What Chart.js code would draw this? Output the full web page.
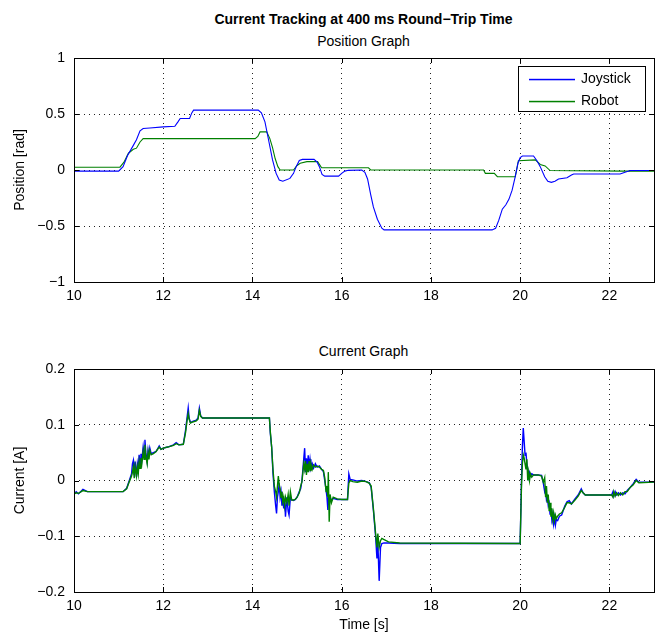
<!DOCTYPE html>
<html>
<head>
<meta charset="utf-8">
<script src="https://cdn.jsdelivr.net/npm/chart.js@4.4.1/dist/chart.umd.min.js"></script>
<style>
  body { margin: 0; background: #fff; }
  #wrap { position: relative; width: 668px; height: 636px; font-family: "Liberation Sans", Arial, sans-serif; color: #000; }
  .ttl { position: absolute; left: 0; width: 727px; text-align: center; font-size: 14px; line-height: 16px; white-space: nowrap; }
  canvas { position: absolute; left: 0; }
</style>
</head>
<body>
<div id="wrap">
  <div class="ttl" style="top:11px;font-weight:bold">Current Tracking at 400 ms Round−Trip Time</div>
  <div class="ttl" style="top:33px">Position Graph</div>
  <div class="ttl" style="top:343px">Current Graph</div>
  <canvas id="posChart" width="668" height="300" style="top:0"></canvas>
  <canvas id="curChart" width="668" height="336" style="top:300px"></canvas>
</div>
<script>
// tick labels
const xTicks = [10, 12, 14, 16, 18, 20, 22];
const posTicks = [-1, -0.5, 0, 0.5, 1];
const curTicks = [-0.2, -0.1, 0, 0.1, 0.2];

// series colours
const joyColor = "#0000ff";
const robColor = "#008000";

// position graph: joystick
const posJoyT = [10.00, 11.00, 11.10, 11.20, 11.33, 11.40, 11.48, 11.55, 11.70, 12.00, 12.26, 12.33, 12.38, 12.59, 12.64, 12.68,
  14.13, 14.20, 14.28, 14.37, 14.45, 14.53, 14.60, 14.68, 14.84, 14.92, 14.98, 15.05, 15.12, 15.38, 15.45, 15.50, 15.56, 15.62,
  15.93, 16.00, 16.07, 16.15, 16.45, 16.52, 16.58, 16.65, 16.71, 16.80, 16.90, 16.95, 19.37, 19.45, 19.52, 19.60, 19.68, 19.75,
  19.82, 19.89, 19.95, 20.00, 20.05, 20.30, 20.38, 20.45, 20.55, 20.62, 20.70, 20.78, 20.86, 21.05, 21.15, 21.20, 22.24, 22.35,
  22.47, 23.00];
const posJoyV = [-0.01, -0.01, 0.03, 0.13, 0.22, 0.27, 0.35, 0.37, 0.375, 0.385, 0.39, 0.43, 0.46, 0.46, 0.51, 0.535,
  0.535, 0.51, 0.43, 0.25, 0.09, -0.03, -0.09, -0.10, -0.075, -0.03, 0.03, 0.085, 0.095, 0.095, 0.07, 0.03, -0.04, -0.055,
  -0.055, -0.03, -0.01, -0.003, 0.0, -0.02, -0.08, -0.22, -0.33, -0.44, -0.52, -0.535, -0.535, -0.52, -0.45, -0.35, -0.31, -0.26,
  -0.18, -0.06, 0.06, 0.11, 0.125, 0.125, 0.08, 0.03, -0.06, -0.10, -0.11, -0.10, -0.08, -0.07, -0.045, -0.036, -0.036, -0.02,
  -0.005, -0.005];

// position graph: robot
const posRobT = [10.00, 11.03, 11.12, 11.22, 11.33, 11.40, 11.48, 11.55, 14.06, 14.12, 14.17, 14.32, 14.39, 14.45, 14.51, 14.57,
  14.62, 14.92, 15.00, 15.07, 15.22, 15.46, 15.50, 15.55, 16.60, 16.65, 19.18, 19.22, 19.42, 19.49, 19.89, 19.93, 19.96, 20.34,
  20.45, 20.56, 20.67, 22.30, 23.00];
const posRobV = [0.025, 0.025, 0.07, 0.15, 0.185, 0.195, 0.25, 0.28, 0.28, 0.30, 0.34, 0.34, 0.28, 0.20, 0.10, 0.03,
  0.0, 0.0, 0.04, 0.06, 0.075, 0.075, 0.05, 0.02, 0.02, 0.0, 0.0, -0.03, -0.03, -0.06, -0.06, 0.02, 0.083, 0.09,
  0.05, 0.036, -0.005, -0.01, -0.01];

// current graph (shared time base)
const curT = [10.00, 10.05, 10.10, 10.20, 10.30, 10.60, 11.10, 11.18, 11.24, 11.29, 11.31, 11.33, 11.35, 11.37, 11.40, 11.42,
  11.44, 11.46, 11.48, 11.50, 11.52, 11.55, 11.57, 11.59, 11.61, 11.64, 11.66, 11.68, 11.70, 11.73, 11.78, 11.84, 11.91, 11.95,
  12.00, 12.10, 12.23, 12.29, 12.35, 12.45, 12.50, 12.53, 12.56, 12.58, 12.61, 12.66, 12.74, 12.78, 12.81, 12.84, 12.88, 14.38,
  14.40, 14.43, 14.46, 14.49, 14.52, 14.54, 14.56, 14.58, 14.60, 14.62, 14.64, 14.66, 14.68, 14.70, 14.72, 14.74, 14.77, 14.80,
  14.82, 14.85, 14.88, 14.92, 14.96, 15.00, 15.05, 15.08, 15.11, 15.13, 15.15, 15.17, 15.19, 15.21, 15.23, 15.25, 15.27, 15.29,
  15.31, 15.34, 15.37, 15.41, 15.45, 15.50, 15.55, 15.59, 15.62, 15.65, 15.67, 15.69, 15.70, 15.72, 15.74, 15.77, 15.81, 15.90,
  16.00, 16.13, 16.16, 16.19, 16.25, 16.35, 16.45, 16.55, 16.62, 16.66, 16.71, 16.76, 16.79, 16.81, 16.84, 16.87, 16.90, 16.95,
  17.05, 17.30, 20.00, 20.03, 20.05, 20.07, 20.09, 20.11, 20.13, 20.15, 20.17, 20.19, 20.21, 20.23, 20.26, 20.30, 20.40, 20.48,
  20.52, 20.55, 20.57, 20.59, 20.61, 20.63, 20.65, 20.67, 20.69, 20.71, 20.73, 20.75, 20.77, 20.79, 20.81, 20.84, 20.88, 20.93,
  21.00, 21.05, 21.10, 21.15, 21.22, 21.30, 21.37, 21.41, 21.46, 22.05, 22.08, 22.10, 22.13, 22.16, 22.20, 22.25, 22.30, 22.35,
  22.40, 22.47, 22.53, 22.60, 22.66, 23.00];
const curJoy = [-0.024, -0.020, -0.024, -0.016, -0.020, -0.020, -0.020, -0.014, 0.000, 0.012, 0.030, 0.036, 0.010, 0.034, 0.006, 0.030,
  0.020, 0.046, 0.030, 0.048, 0.036, 0.060, 0.045, 0.073, 0.050, 0.034, 0.054, 0.042, 0.058, 0.048, 0.050, 0.052, 0.062, 0.056,
  0.058, 0.060, 0.064, 0.068, 0.064, 0.065, 0.090, 0.110, 0.130, 0.112, 0.104, 0.106, 0.108, 0.112, 0.130, 0.116, 0.112, 0.112,
  0.085, 0.060, 0.013, -0.020, -0.045, -0.059, -0.030, -0.020, -0.005, -0.030, -0.020, -0.045, -0.028, -0.050, -0.035, -0.065, -0.030, -0.055,
  -0.062, -0.030, -0.035, -0.036, -0.034, -0.030, -0.020, -0.015, 0.000, 0.020, 0.040, 0.058, 0.015, 0.040, 0.020, 0.045, 0.025, 0.038,
  0.022, 0.030, 0.022, 0.030, 0.024, 0.026, 0.020, 0.016, 0.000, -0.017, -0.030, -0.053, -0.030, -0.040, -0.030, -0.036, -0.032, -0.034,
  -0.034, -0.034, 0.012, 0.002, 0.001, -0.001, 0.000, -0.002, -0.004, -0.012, -0.053, -0.100, -0.140, -0.110, -0.180, -0.120, -0.113, -0.112,
  -0.112, -0.113, -0.113, 0.000, 0.060, 0.094, 0.070, 0.045, 0.050, 0.030, 0.020, 0.006, 0.014, 0.008, 0.012, 0.010, 0.010, 0.009,
  -0.005, -0.020, -0.015, -0.035, -0.030, -0.045, -0.040, -0.060, -0.050, -0.070, -0.060, -0.078, -0.066, -0.080, -0.070, -0.072, -0.064, -0.062,
  -0.046, -0.038, -0.036, -0.042, -0.034, -0.026, -0.015, -0.022, -0.026, -0.026, -0.020, -0.028, -0.020, -0.026, -0.022, -0.026, -0.022, -0.024,
  -0.018, -0.012, -0.006, 0.002, -0.003, -0.003];
const curRob = [-0.024, -0.022, -0.023, -0.018, -0.020, -0.020, -0.020, -0.015, -0.002, 0.008, 0.015, 0.024, 0.004, 0.026, 0.008, 0.024,
  0.012, 0.034, 0.022, 0.040, 0.030, 0.052, 0.038, 0.064, 0.044, 0.030, 0.050, 0.038, 0.054, 0.046, 0.048, 0.052, 0.060, 0.056,
  0.058, 0.060, 0.063, 0.066, 0.064, 0.065, 0.086, 0.105, 0.120, 0.110, 0.103, 0.105, 0.107, 0.110, 0.126, 0.115, 0.112, 0.112,
  0.088, 0.060, 0.020, -0.010, -0.020, -0.030, -0.010, 0.008, -0.008, -0.015, -0.030, -0.020, -0.038, -0.030, -0.045, -0.030, -0.040, -0.025,
  -0.045, -0.020, -0.035, -0.035, -0.034, -0.030, -0.022, -0.010, -0.002, 0.015, 0.030, 0.020, 0.035, 0.010, 0.030, 0.015, 0.035, 0.018,
  0.030, 0.020, 0.028, 0.024, 0.026, 0.024, 0.020, 0.018, 0.005, -0.020, -0.010, -0.030, 0.015, -0.074, -0.025, -0.040, -0.030, -0.033,
  -0.034, -0.034, -0.005, 0.000, -0.002, -0.003, -0.001, -0.002, -0.005, -0.010, -0.050, -0.095, -0.120, -0.095, -0.120, -0.108, -0.104, -0.106,
  -0.110, -0.112, -0.113, -0.010, 0.030, 0.046, 0.040, 0.030, 0.020, 0.038, 0.000, 0.015, 0.000, 0.012, 0.006, 0.010, 0.010, 0.008,
  -0.003, 0.005, -0.030, -0.010, -0.040, -0.025, -0.055, -0.040, -0.065, -0.050, -0.070, -0.058, -0.072, -0.062, -0.068, -0.064, -0.060, -0.058,
  -0.048, -0.040, -0.040, -0.042, -0.036, -0.028, -0.018, -0.022, -0.026, -0.026, -0.030, -0.020, -0.028, -0.022, -0.027, -0.022, -0.026, -0.020,
  -0.020, -0.012, -0.008, 0.000, -0.004, -0.003];

const FONT = { family: "'Liberation Sans', Arial, sans-serif", size: 14 };
const pts = (ts, vs) => ts.map((t, i) => ({ x: t, y: vs[i] }));
const fmt = (v) => (Math.abs(v) < 1e-9 ? "0" : String(v).replace("-", "\u2212"));

// box round the plot with inward tick marks (matlab style)
const framePlugin = {
  id: "frame",
  afterDraw(chart) {
    const { ctx, chartArea: a, scales } = chart;
    ctx.save();
    ctx.strokeStyle = "#000";
    ctx.lineWidth = 1;
    ctx.beginPath();
    scales.x.ticks.forEach((t) => {
      const px = Math.round(scales.x.getPixelForValue(t.value)) + 0.5;
      ctx.moveTo(px, a.bottom); ctx.lineTo(px, a.bottom - 5);
      ctx.moveTo(px, a.top); ctx.lineTo(px, a.top + 5);
    });
    scales.y.ticks.forEach((t) => {
      const py = Math.round(scales.y.getPixelForValue(t.value)) + 0.5;
      ctx.moveTo(a.left, py); ctx.lineTo(a.left + 5, py);
      ctx.moveTo(a.right, py); ctx.lineTo(a.right - 5, py);
    });
    ctx.stroke();
    ctx.strokeRect(Math.round(a.left) + 0.5, Math.round(a.top) + 0.5, Math.round(a.right - a.left), Math.round(a.bottom - a.top));
    ctx.restore();
  },
};

// legend drawn inside the axes, upper right
const boxLegend = {
  id: "boxLegend",
  afterDraw(chart) {
    const { ctx } = chart;
    const x = 518, y = 66, w = 127, h = 45;
    const colors = [joyColor, robColor];
    ctx.save();
    ctx.fillStyle = "#fff";
    ctx.fillRect(x, y, w, h);
    ctx.strokeStyle = "#000";
    ctx.lineWidth = 1;
    ctx.strokeRect(x + 0.5, y + 0.5, w, h);
    ctx.font = "14px " + FONT.family;
    ctx.textBaseline = "middle";
    chart.data.datasets.forEach((ds, i) => {
      const ly = y + 13 + i * 22;
      ctx.fillStyle = colors[i];
      ctx.fillRect(x + 11, ly - 0.2, 46, 1.5);
      ctx.fillStyle = "#000";
      ctx.fillText(ds.label, x + 63, ly + 0.5);
    });
    ctx.restore();
  },
};

const makeScales = (yMin, yMax, yTicks, yTitle, xTitle, xHeight) => ({
  x: {
    type: "linear",
    min: 10,
    max: 23,
    afterBuildTicks: (s) => { s.ticks = xTicks.map((v) => ({ value: v })); },
    afterFit: (s) => { s.height = xHeight; },
    ticks: { color: "#000", font: FONT, padding: 6, maxRotation: 0, callback: (v) => fmt(v) },
    grid: { color: "#222", lineWidth: 1, drawTicks: false },
    border: { display: false, dash: [1, 4] },
    title: xTitle
      ? { display: true, text: xTitle, color: "#000", font: FONT, padding: { top: 0, bottom: 2 } }
      : { display: false },
  },
  y: {
    min: yMin,
    max: yMax,
    afterBuildTicks: (s) => { s.ticks = yTicks.map((v) => ({ value: v })); },
    afterFit: (s) => { s.width = 74; },
    ticks: { color: "#000", font: FONT, padding: 9, callback: (v) => fmt(v) },
    grid: { color: "#222", lineWidth: 1, drawTicks: false },
    border: { display: false, dash: [1, 4] },
    title: { display: true, text: yTitle, color: "#000", font: FONT, padding: { top: 12, bottom: 0 } },
  },
});

const baseOptions = (padTop, scales, lineW) => ({
  responsive: false,
  animation: false,
  devicePixelRatio: 1,
  layout: { padding: { left: 0, right: 14, top: padTop, bottom: 0 } },
  elements: { point: { radius: 0 }, line: { tension: 0, borderWidth: lineW } },
  plugins: { legend: { display: false }, tooltip: { enabled: false } },
  scales,
});

new Chart(document.getElementById("posChart"), {
  type: "line",
  data: {
    datasets: [
      { label: "Joystick", data: pts(posJoyT, posJoyV), borderColor: joyColor },
      { label: "Robot", data: pts(posRobT, posRobV), borderColor: robColor },
    ],
  },
  options: baseOptions(58, makeScales(-1, 1, posTicks, "Position [rad]", null, 18), 1.1),
  plugins: [framePlugin, boxLegend],
});

new Chart(document.getElementById("curChart"), {
  type: "line",
  data: {
    datasets: [
      { label: "Joystick", data: pts(curT, curJoy), borderColor: joyColor, order: 1 },
      { label: "Robot", data: pts(curT, curRob), borderColor: robColor, order: 0 },
    ],
  },
  options: baseOptions(69, makeScales(-0.2, 0.2, curTicks, "Current [A]", "Time [s]", 44), 1.4),
  plugins: [framePlugin],
});
</script>
</body>
</html>
